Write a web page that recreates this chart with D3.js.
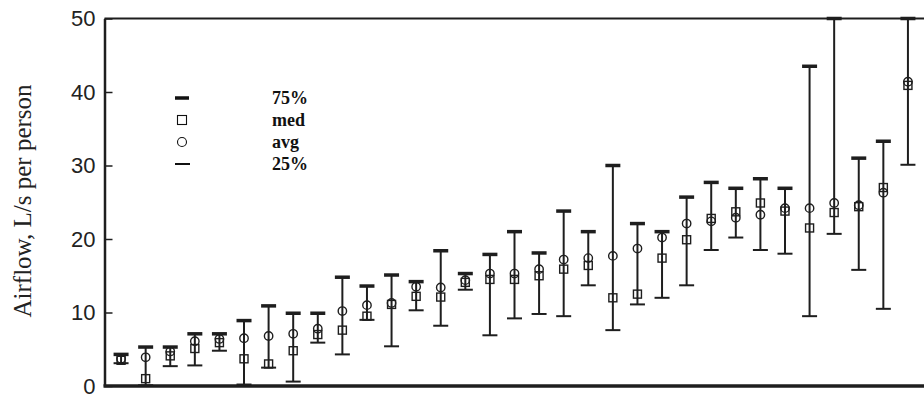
<!DOCTYPE html>
<html><head><meta charset="utf-8">
<script src="https://cdn.jsdelivr.net/npm/d3@7"></script>
<style>html,body{margin:0;padding:0;background:#fff;}svg{display:block;}</style>
</head><body>
<svg id="chart" width="924" height="398"></svg>
<script>
const sites = d3.range(1, 34).map(i => "S" + i);
const q75 = [4.3,5.3,5.3,7.1,7.1,8.9,10.9,9.9,9.9,14.8,13.6,15.1,14.2,18.4,15.3,17.9,21.0,18.1,23.8,21.0,30.0,22.1,21.0,25.7,27.7,26.9,28.2,26.9,43.5,50,31.0,33.3,50];
const med = [3.5,1.0,4.1,5.1,5.9,3.7,3.0,4.8,7.0,7.6,9.5,11.1,12.2,12.1,14.1,14.5,14.5,15.0,15.9,16.4,12.0,12.5,17.4,19.9,22.8,23.7,24.9,23.8,21.5,23.6,24.4,27.0,40.9];
const avg = [3.7,3.9,4.7,6.1,6.4,6.5,6.8,7.1,7.8,10.2,11.0,11.3,13.5,13.4,14.4,15.3,15.3,15.9,17.2,17.4,17.7,18.7,20.2,22.1,22.4,22.9,23.3,24.2,24.2,24.9,24.6,26.3,41.4];
const q25 = [3.1,0.1,2.7,2.8,4.8,0.2,2.5,0.6,5.9,4.3,9.0,5.4,10.3,8.2,13.1,6.9,9.2,9.8,9.5,13.7,7.6,11.1,12.0,13.7,18.5,20.2,18.5,18.0,9.5,20.7,15.8,10.5,30.1];
const yTicks = [0, 10, 20, 30, 40, 50];
const legendLabels = ["75%", "med", "avg", "25%"];

const ink = "#1e1e1e";
const svg = d3.select("#chart");
const mLeft = 104.5, mRight = 924, mTop = 18.5, mBottom = 386;

const x = d3.scalePoint().domain(sites).range([110, 919]).padding(0.45);
const y = d3.scaleLinear().domain([0, 50]).range([mBottom, mTop]);

// y axis
const yAxis = d3.axisLeft(y).tickValues(yTicks).tickSizeInner(-8).tickSizeOuter(0).tickPadding(9);
const ga = svg.append("g").attr("transform", `translate(${mLeft},0)`).call(yAxis);
ga.select(".domain").attr("stroke", ink).attr("stroke-width", 2.5);
ga.selectAll(".tick line").attr("stroke", ink).attr("stroke-width", 1.5);
ga.selectAll(".tick text").attr("fill", "#222").style("font-family", "'Liberation Sans', Arial, sans-serif").style("font-size", "22px");

// frame top + bottom
svg.append("line").attr("x1", mLeft).attr("x2", mRight).attr("y1", y(50)).attr("y2", y(50)).attr("stroke", ink).attr("stroke-width", 2);
svg.append("line").attr("x1", mLeft - 1).attr("x2", mRight).attr("y1", y(0)).attr("y2", y(0)).attr("stroke", ink).attr("stroke-width", 3.5);

// title
svg.append("text").attr("transform", "translate(30.5,201) rotate(-90)")
  .attr("text-anchor", "middle").attr("fill", "#222")
  .style("font-family", "'Liberation Serif', 'Times New Roman', serif").style("font-size", "25px")
  .text("Airflow,  L/s per person");

// error bars
const g = svg.append("g");
const capW = 7.5;
sites.forEach((s, i) => {
  const cx = x(s);
  g.append("line").attr("x1", cx).attr("x2", cx).attr("y1", y(q75[i])).attr("y2", y(q25[i])).attr("stroke", ink).attr("stroke-width", 2);
  g.append("line").attr("x1", cx - capW).attr("x2", cx + capW).attr("y1", y(q75[i])).attr("y2", y(q75[i])).attr("stroke", ink).attr("stroke-width", 3.5);
  g.append("line").attr("x1", cx - capW).attr("x2", cx + capW).attr("y1", y(q25[i])).attr("y2", y(q25[i])).attr("stroke", ink).attr("stroke-width", 2);
  g.append("rect").attr("x", cx - 4).attr("y", y(med[i]) - 4).attr("width", 8).attr("height", 8).attr("fill", "none").attr("stroke", ink).attr("stroke-width", 1.4);
  g.append("circle").attr("cx", cx).attr("cy", y(avg[i])).attr("r", 4.2).attr("fill", "none").attr("stroke", ink).attr("stroke-width", 1.4);
});

// legend
const lg = svg.append("g");
const ly = [98, 120, 142, 164];
lg.append("line").attr("x1", 175).attr("x2", 189).attr("y1", ly[0]).attr("y2", ly[0]).attr("stroke", "#111").attr("stroke-width", 3.5);
lg.append("rect").attr("x", 177.5).attr("y", ly[1] - 4.5).attr("width", 9).attr("height", 9).attr("fill", "none").attr("stroke", "#111").attr("stroke-width", 1.1);
lg.append("circle").attr("cx", 182).attr("cy", ly[2]).attr("r", 4.5).attr("fill", "none").attr("stroke", "#111").attr("stroke-width", 1.1);
lg.append("line").attr("x1", 175).attr("x2", 190).attr("y1", ly[3]).attr("y2", ly[3]).attr("stroke", "#111").attr("stroke-width", 2);
legendLabels.forEach((t, i) => {
  lg.append("text").attr("x", 272).attr("y", ly[i]).attr("dy", "0.35em").attr("fill", "#111")
    .style("font-family", "'Liberation Serif', 'Times New Roman', serif").style("font-size", "18px").style("font-weight", "bold")
    .text(t);
});
</script>
</body></html>
